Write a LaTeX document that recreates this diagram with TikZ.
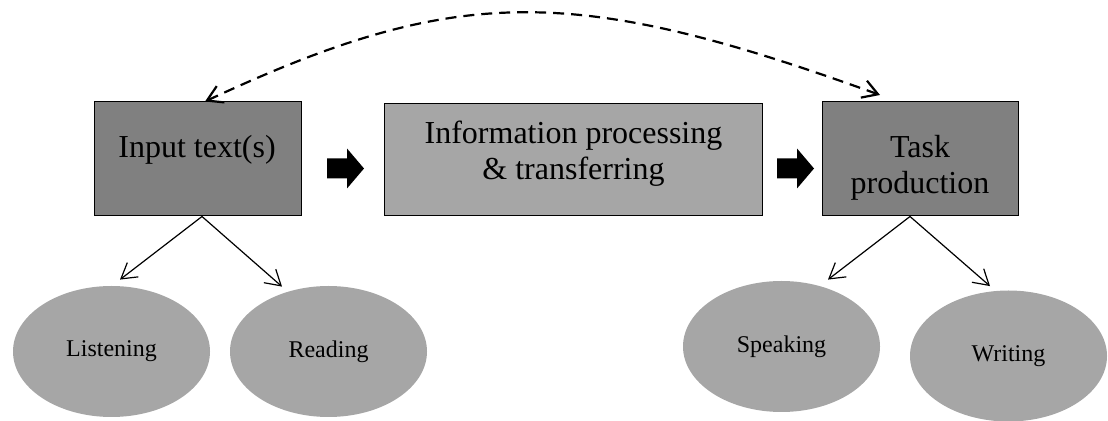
\documentclass[tikz,border=0pt]{standalone}
\usepackage{fontspec}
\setmainfont{Liberation Serif}
\usetikzlibrary{arrows.meta,shapes.geometric}
\definecolor{BoxDark}{HTML}{808080}
\definecolor{BoxPale}{HTML}{A6A6A6}

\begin{document}
\begin{tikzpicture}[>={Straight Barb[length=7.5pt,width=9pt]},x=0.5pt,y=-0.5pt]
  \tikzstyle{stagebox}=[draw=black,line width=0.5pt,inner sep=0pt,minimum height=57pt]
  \tikzstyle{stagetext}=[inner sep=0pt,align=center,font=\fontsize{16}{18}\selectfont]
  \tikzstyle{skill}=[ellipse,fill=BoxPale,inner sep=0pt,minimum width=98.5pt,
    minimum height=65.5pt,font=\fontsize{12}{14}\selectfont]
  \useasboundingbox (0,0) rectangle (1108,421);
  \node[stagebox,fill=BoxDark,minimum width=103.5pt] (input) at (197.5,159) {};
  \node[stagebox,fill=BoxPale,minimum width=189pt,minimum height=56pt] (proc) at (573,160) {};
  \node[stagebox,fill=BoxDark,minimum width=98pt] (task) at (920,159) {};
  \node[stagetext] (inputlbl) at (197,150) {Input text(s)};
  \node[stagetext] (proclbl) at (573.5,154) {Information processing\\\& transferring};
  \node[stagetext] (tasklbl) at (920,168) {Task\\production};
  % block arrows between the stages
  \foreach \bx in {327,777}
    \fill[shift={(\bx,168.5)}] (0,-10) -- (20,-10) -- (20,-20) -- (37,0)
      -- (20,20) -- (20,10) -- (0,10) -- cycle;
  \node[skill] (listen) at (111.5,351.5) {Listening};
  \node[skill] (read) at (328.5,351.5) {Reading};
  \node[skill] (speak) at (781.5,346.5) {Speaking};
  \node[skill] (write) at (1008.5,356) {Writing};
  \draw[->,line width=0.6pt] ([shift={(4.5,0)}]input.south) -- ([shift={(8.5,-6)}]listen.north);
  \draw[->,line width=0.6pt] ([shift={(4.5,0)}]input.south) -- ([shift={(-46.5,1)}]read.north);
  \draw[->,line width=0.6pt] ([shift={(-10,0)}]task.south) -- ([shift={(46.5,-1)}]speak.north);
  \draw[->,line width=0.6pt] ([shift={(-10,0)}]task.south) -- ([shift={(-18.5,-4)}]write.north);
  \draw[<->,line width=1.1pt,dash pattern=on 5.5pt off 3.5pt]
    ([shift={(7.5,0)}]input.north) .. controls (457,-16) and (573,-16)
    .. ([shift={(-40,-6.5)}]task.north);
\end{tikzpicture}
\end{document}
